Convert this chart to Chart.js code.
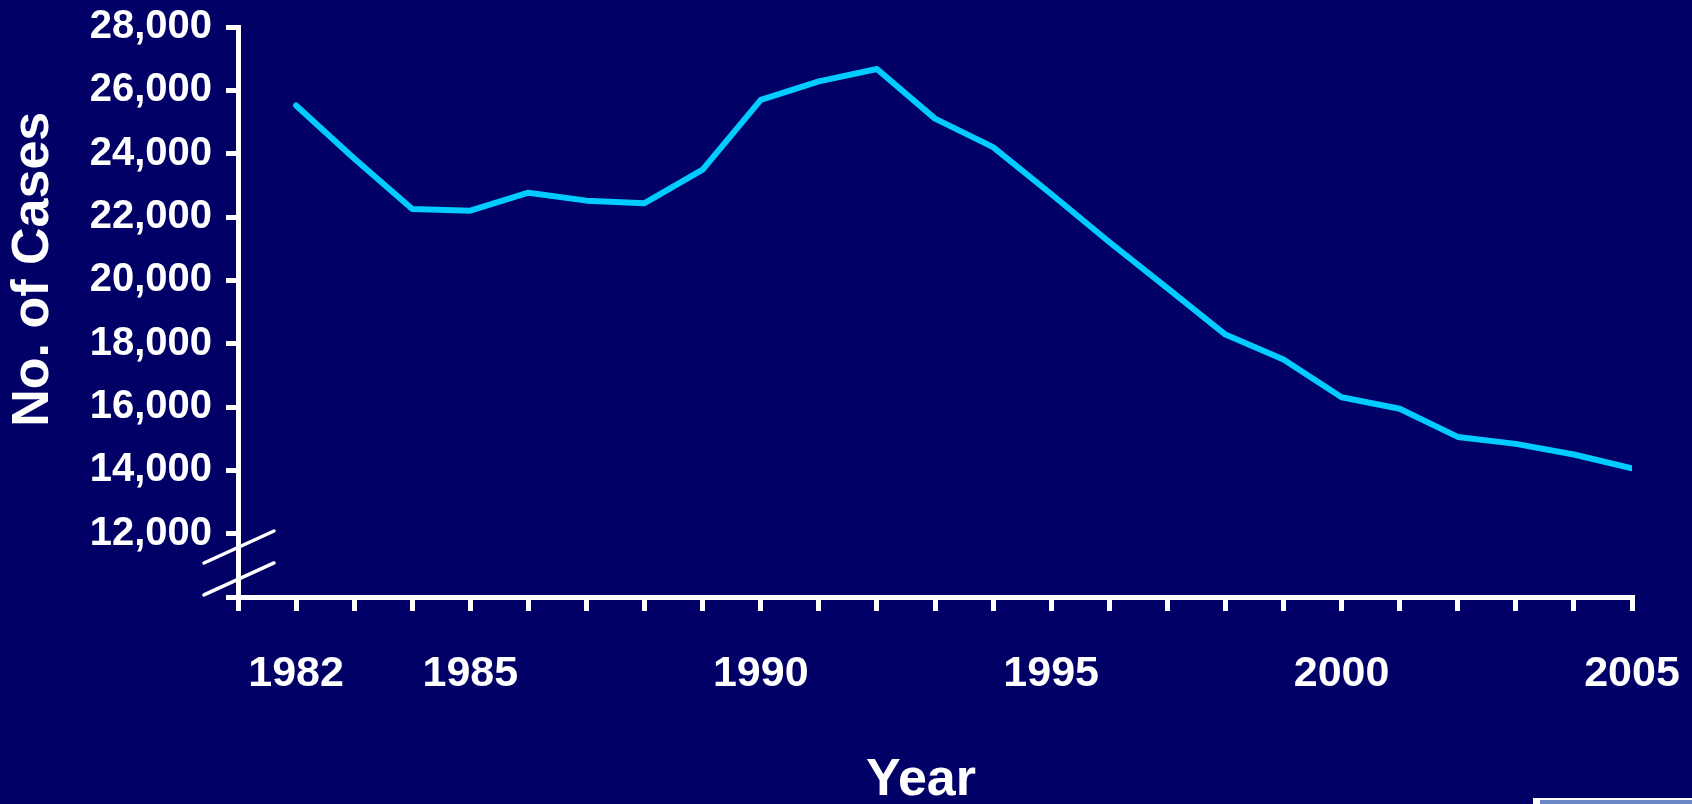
<!DOCTYPE html>
<html>
<head>
<meta charset="utf-8">
<script src="https://cdn.jsdelivr.net/npm/chart.js@4.4.1/dist/chart.umd.min.js"></script>
<style>
  html, body { margin: 0; padding: 0; background: #000066; }
  #wrap { position: relative; width: 1692px; height: 804px; overflow: hidden; }
  #corner { position: absolute; left: 1533px; top: 798px; width: 159px; height: 6px; background: #ffffff; }
  #corner div { position: absolute; left: 7px; top: 2px; right: 0; bottom: 0; background: #6a86c4; }
</style>
</head>
<body>
<div id="wrap">
  <canvas id="casesChart"></canvas>
  <div id="corner"><div></div></div>
</div>
<script>
// data
const years = [1982, 1983, 1984, 1985, 1986, 1987, 1988, 1989, 1990, 1991, 1992, 1993,
               1994, 1995, 1996, 1997, 1998, 1999, 2000, 2001, 2002, 2003, 2004, 2005];
const cases = [25520, 23846, 22255, 22201, 22768, 22517, 22436, 23495, 25701, 26283, 26673, 25107,
               24205, 22727, 21210, 19751, 18286, 17500, 16308, 15945, 15055, 14835, 14500, 14065];
const yearLabels = [1982, 1985, 1990, 1995, 2000, 2005];
const yMin = 10000;
const yMax = 28000;
const yStep = 2000;

const fontFamily = '"Liberation Sans", Arial, sans-serif';

// titles and the axis break marks
const decorations = {
    id: 'decorations',
    afterDraw(chart) {
        const ctx = chart.ctx;
        const area = chart.chartArea;
        const yScale = chart.scales.y;
        ctx.save();
        ctx.fillStyle = '#ffffff';
        ctx.font = 'bold 52px ' + fontFamily;
        ctx.textAlign = 'center';
        ctx.textBaseline = 'middle';
        ctx.fillText('Year', area.left + (area.right - area.left) * 0.49, 781);
        ctx.translate(34, area.top + (area.bottom - area.top) * 0.425);
        ctx.rotate(-Math.PI / 2);
        ctx.fillText('No. of Cases', 0, 0);
        ctx.restore();

        // break slashes across the y axis
        ctx.save();
        ctx.strokeStyle = '#ffffff';
        ctx.lineWidth = 3.5;
        ctx.lineCap = 'round';
        [11580, 10570].forEach(function (v) {
            const cy = yScale.getPixelForValue(v);
            ctx.beginPath();
            ctx.moveTo(area.left - 34, cy + 16);
            ctx.lineTo(area.left + 36, cy - 16);
            ctx.stroke();
        });
        ctx.restore();
    }
};

const ctx = document.getElementById('casesChart').getContext('2d');
const chart = new Chart(ctx, {
    type: 'line',
    data: {
        datasets: [{
            label: 'No. of Cases',
            data: years.map(function (yr, i) { return { x: yr, y: cases[i] }; }),
            borderColor: '#00ccff',
            borderWidth: 6,
            borderCapStyle: 'round',
            borderJoinStyle: 'round',
            pointRadius: 0,
            tension: 0,
            fill: false
        }]
    },
    options: {
        responsive: true,
        maintainAspectRatio: false,
        animation: false,
        layout: {
            padding: { left: 0, right: 60, top: 27, bottom: 0 }
        },
        plugins: {
            legend: { display: false },
            tooltip: { enabled: false }
        },
        scales: {
            x: {
                type: 'linear',
                min: 1981,
                max: 2005,
                afterFit: function (scale) {
                    scale.height = 207;
                    scale.paddingLeft = 0;
                    scale.paddingRight = 0;
                },
                border: { color: '#ffffff', width: 5 },
                grid: {
                    drawOnChartArea: false,
                    color: '#ffffff',
                    tickColor: '#ffffff',
                    tickLength: 14,
                    lineWidth: 5
                },
                ticks: {
                    stepSize: 1,
                    autoSkip: false,
                    maxRotation: 0,
                    padding: 37,
                    color: '#ffffff',
                    font: { family: fontFamily, size: 43, weight: 'bold' },
                    callback: function (v) {
                        return yearLabels.indexOf(v) >= 0 ? String(v) : '';
                    }
                }
            },
            y: {
                min: yMin,
                max: yMax,
                afterFit: function (scale) {
                    scale.width = 238;
                    scale.paddingTop = 0;
                    scale.paddingBottom = 0;
                },
                border: { color: '#ffffff', width: 5 },
                grid: {
                    drawOnChartArea: false,
                    color: '#ffffff',
                    tickColor: '#ffffff',
                    tickLength: 12,
                    lineWidth: 5
                },
                ticks: {
                    stepSize: yStep,
                    padding: 14,
                    color: '#ffffff',
                    font: { family: fontFamily, size: 40, weight: 'bold' },
                    callback: function (v) {
                        return v === yMin ? '' : v.toLocaleString('en-US');
                    }
                }
            }
        }
    },
    plugins: [decorations]
});
</script>
</body>
</html>
